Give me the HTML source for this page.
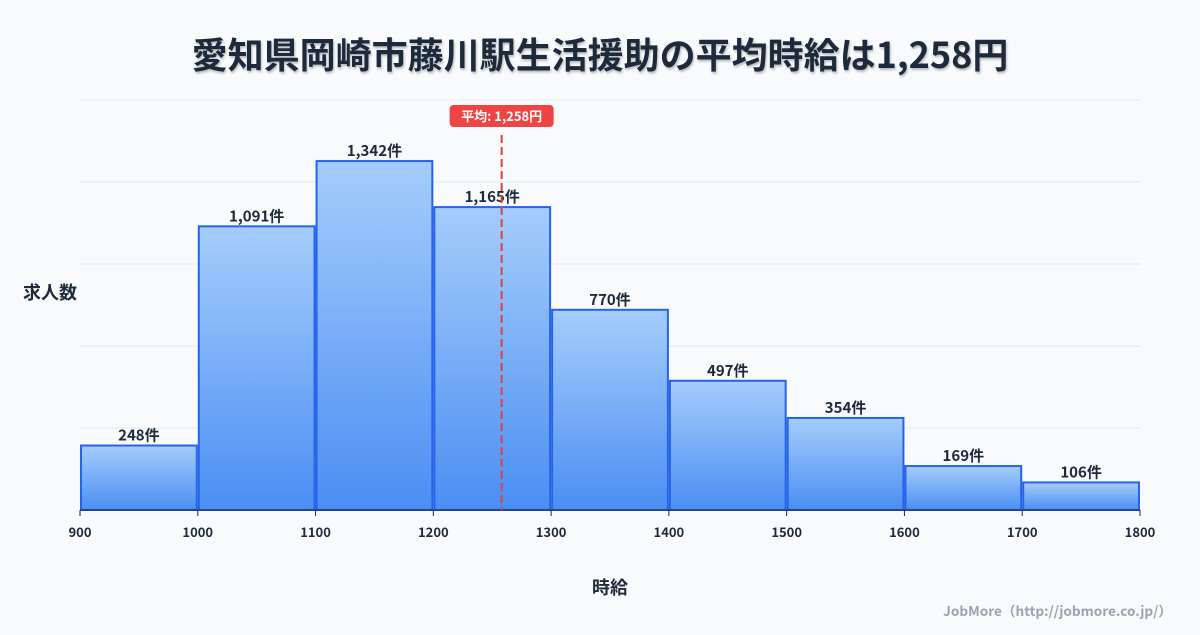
<!DOCTYPE html>
<html><head><meta charset="utf-8">
<style>
body{margin:0;width:1200px;height:630px;background:#f8fafc;font-family:"Noto Sans CJK JP",sans-serif;overflow:hidden}
svg text{font-family:"Noto Sans CJK JP",sans-serif}
</style></head>
<body>
<svg id="c" width="1200" height="630">
<defs>
<linearGradient id="g" x1="0" y1="0" x2="0" y2="1">
<stop offset="0" stop-color="#a5cdfb"/><stop offset="1" stop-color="#4b8ef3"/>
</linearGradient>
<filter id="sh"><feDropShadow dx="1" dy="2" stdDeviation="1" flood-color="#000" flood-opacity="0.25"/></filter>
</defs>
<text x="600" y="68" text-anchor="middle" font-size="36" font-weight="bold" fill="#1e293b" filter="url(#sh)">愛知県岡崎市藤川駅生活援助の平均時給は1,258円</text>
<text x="50" y="299" text-anchor="middle" font-size="18" font-weight="bold" fill="#1e293b">求人数</text>
<text x="610" y="594" text-anchor="middle" font-size="18" font-weight="bold" fill="#1e293b">時給</text>
<text x="1172" y="616" text-anchor="end" font-size="13.6" font-weight="bold" fill="#9ca3af">JobMore（http://jobmore.co.jp/）</text>
<g id="grid"></g><g id="bars"></g><g id="ticks"></g><g id="avg"></g>
</svg>
<script>
const binStarts=[900,1000,1100,1200,1300,1400,1500,1600,1700];
const counts=[248,1091,1342,1165,770,497,354,169,106];
const xTicks=[900,1000,1100,1200,1300,1400,1500,1600,1700,1800];
const avgValue=1258;
const NS="http://www.w3.org/2000/svg";
const x=v=>80+(v-900)*(1060/900);
const y=v=>510-v*0.26;
function mk(t,a,p){const e=document.createElementNS(NS,t);for(const k in a)e.setAttribute(k,a[k]);p.appendChild(e);return e;}
const grid=document.getElementById('grid');
for(let i=0;i<5;i++){const gy=100+i*82;const l=mk('line',{x1:80,x2:1140,y1:gy,y2:gy,stroke:'#e2e8f0','stroke-width':1},grid);

}
const bars=document.getElementById('bars');
binStarts.forEach((b,i)=>{
 const x0=x(b)+1,x1=x(b+100)-1,t=y(counts[i]);
 const r=mk('rect',{x:x0,y:t,width:x1-x0,height:510-t,fill:'url(#g)',stroke:'#2563eb','stroke-width':2},bars);
 
 
 const tx=mk('text',{x:(x0+x1)/2,y:t-5,'text-anchor':'middle','font-size':15,'font-weight':'bold',fill:'#1e293b'},bars);
 tx.textContent=counts[i].toLocaleString('en-US')+'件';
 
 
});
const ticks=document.getElementById('ticks');
const ax=mk('line',{x1:80,x2:1140,y1:510,y2:510,stroke:'#1e293b','stroke-width':1},ticks);


xTicks.forEach(v=>{
 const l=mk('line',{x1:x(v),x2:x(v),y1:510,y2:516,stroke:'#1e293b'},ticks);
 
 
 const t=mk('text',{x:x(v),y:537,'text-anchor':'middle','font-size':13,'font-weight':'bold',fill:'#1e293b'},ticks);
 t.textContent=v;
 
 
});
const avg=document.getElementById('avg');
const ax2=x(avgValue);
const dl=mk('line',{x1:ax2,x2:ax2,y1:135,y2:510,stroke:'#e53e3e','stroke-width':2,'stroke-dasharray':'8,4'},avg);


const bx=mk('rect',{x:ax2-52,y:105,width:104,height:22,rx:4,fill:'#ef4444'},avg);


const at=mk('text',{x:ax2,y:121,'text-anchor':'middle','font-size':13,'font-weight':'bold',fill:'#fff'},avg);
at.textContent='平均: '+avgValue.toLocaleString('en-US')+'円';


</script>
</body></html>
